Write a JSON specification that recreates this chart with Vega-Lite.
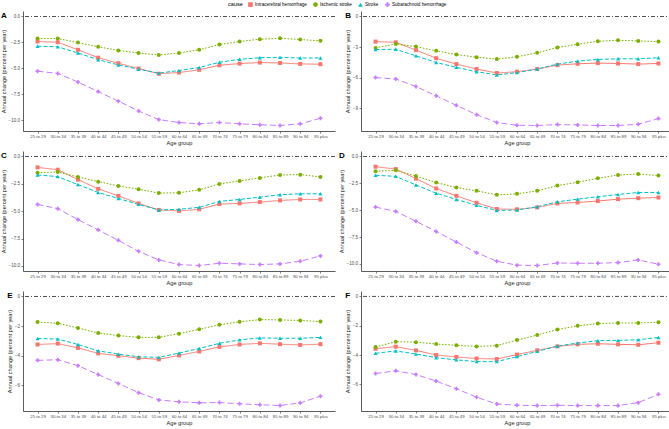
{
  "$schema": "https://vega.github.io/schema/vega-lite/v6.json",
  "padding": {"left": 1, "top": 2, "right": 1, "bottom": 1},
  "background": "white",
  "datasets": {
    "d": [
      {"p":"A","age":"25 to 29","cause":"Intracerebral hemorrhage","v":-2.41},
      {"p":"A","age":"30 to 34","cause":"Intracerebral hemorrhage","v":-2.48},
      {"p":"A","age":"35 to 39","cause":"Intracerebral hemorrhage","v":-3.21},
      {"p":"A","age":"40 to 44","cause":"Intracerebral hemorrhage","v":-3.97},
      {"p":"A","age":"45 to 49","cause":"Intracerebral hemorrhage","v":-4.51},
      {"p":"A","age":"50 to 54","cause":"Intracerebral hemorrhage","v":-5.02},
      {"p":"A","age":"55 to 59","cause":"Intracerebral hemorrhage","v":-5.52},
      {"p":"A","age":"60 to 64","cause":"Intracerebral hemorrhage","v":-5.40},
      {"p":"A","age":"65 to 69","cause":"Intracerebral hemorrhage","v":-5.14},
      {"p":"A","age":"70 to 74","cause":"Intracerebral hemorrhage","v":-4.70},
      {"p":"A","age":"75 to 79","cause":"Intracerebral hemorrhage","v":-4.54},
      {"p":"A","age":"80 to 84","cause":"Intracerebral hemorrhage","v":-4.44},
      {"p":"A","age":"85 to 89","cause":"Intracerebral hemorrhage","v":-4.48},
      {"p":"A","age":"90 to 94","cause":"Intracerebral hemorrhage","v":-4.57},
      {"p":"A","age":"95 plus","cause":"Intracerebral hemorrhage","v":-4.60},
      {"p":"A","age":"25 to 29","cause":"Ischemic stroke","v":-2.13},
      {"p":"A","age":"30 to 34","cause":"Ischemic stroke","v":-2.13},
      {"p":"A","age":"35 to 39","cause":"Ischemic stroke","v":-2.51},
      {"p":"A","age":"40 to 44","cause":"Ischemic stroke","v":-2.92},
      {"p":"A","age":"45 to 49","cause":"Ischemic stroke","v":-3.27},
      {"p":"A","age":"50 to 54","cause":"Ischemic stroke","v":-3.52},
      {"p":"A","age":"55 to 59","cause":"Ischemic stroke","v":-3.71},
      {"p":"A","age":"60 to 64","cause":"Ischemic stroke","v":-3.52},
      {"p":"A","age":"65 to 69","cause":"Ischemic stroke","v":-3.21},
      {"p":"A","age":"70 to 74","cause":"Ischemic stroke","v":-2.70},
      {"p":"A","age":"75 to 79","cause":"Ischemic stroke","v":-2.41},
      {"p":"A","age":"80 to 84","cause":"Ischemic stroke","v":-2.19},
      {"p":"A","age":"85 to 89","cause":"Ischemic stroke","v":-2.10},
      {"p":"A","age":"90 to 94","cause":"Ischemic stroke","v":-2.22},
      {"p":"A","age":"95 plus","cause":"Ischemic stroke","v":-2.35},
      {"p":"A","age":"25 to 29","cause":"Stroke","v":-2.86},
      {"p":"A","age":"30 to 34","cause":"Stroke","v":-2.92},
      {"p":"A","age":"35 to 39","cause":"Stroke","v":-3.52},
      {"p":"A","age":"40 to 44","cause":"Stroke","v":-4.16},
      {"p":"A","age":"45 to 49","cause":"Stroke","v":-4.67},
      {"p":"A","age":"50 to 54","cause":"Stroke","v":-5.08},
      {"p":"A","age":"55 to 59","cause":"Stroke","v":-5.46},
      {"p":"A","age":"60 to 64","cause":"Stroke","v":-5.21},
      {"p":"A","age":"65 to 69","cause":"Stroke","v":-4.92},
      {"p":"A","age":"70 to 74","cause":"Stroke","v":-4.41},
      {"p":"A","age":"75 to 79","cause":"Stroke","v":-4.13},
      {"p":"A","age":"80 to 84","cause":"Stroke","v":-3.97},
      {"p":"A","age":"85 to 89","cause":"Stroke","v":-3.94},
      {"p":"A","age":"90 to 94","cause":"Stroke","v":-4.00},
      {"p":"A","age":"95 plus","cause":"Stroke","v":-4.00},
      {"p":"A","age":"25 to 29","cause":"Subarachnoid hemorrhage","v":-5.27},
      {"p":"A","age":"30 to 34","cause":"Subarachnoid hemorrhage","v":-5.49},
      {"p":"A","age":"35 to 39","cause":"Subarachnoid hemorrhage","v":-6.32},
      {"p":"A","age":"40 to 44","cause":"Subarachnoid hemorrhage","v":-7.24},
      {"p":"A","age":"45 to 49","cause":"Subarachnoid hemorrhage","v":-8.16},
      {"p":"A","age":"50 to 54","cause":"Subarachnoid hemorrhage","v":-9.11},
      {"p":"A","age":"55 to 59","cause":"Subarachnoid hemorrhage","v":-9.94},
      {"p":"A","age":"60 to 64","cause":"Subarachnoid hemorrhage","v":-10.22},
      {"p":"A","age":"65 to 69","cause":"Subarachnoid hemorrhage","v":-10.35},
      {"p":"A","age":"70 to 74","cause":"Subarachnoid hemorrhage","v":-10.22},
      {"p":"A","age":"75 to 79","cause":"Subarachnoid hemorrhage","v":-10.35},
      {"p":"A","age":"80 to 84","cause":"Subarachnoid hemorrhage","v":-10.44},
      {"p":"A","age":"85 to 89","cause":"Subarachnoid hemorrhage","v":-10.51},
      {"p":"A","age":"90 to 94","cause":"Subarachnoid hemorrhage","v":-10.35},
      {"p":"A","age":"95 plus","cause":"Subarachnoid hemorrhage","v":-9.81},
      {"p":"B","age":"25 to 29","cause":"Intracerebral hemorrhage","v":-2.47},
      {"p":"B","age":"30 to 34","cause":"Intracerebral hemorrhage","v":-2.54},
      {"p":"B","age":"35 to 39","cause":"Intracerebral hemorrhage","v":-3.31},
      {"p":"B","age":"40 to 44","cause":"Intracerebral hemorrhage","v":-4.10},
      {"p":"B","age":"45 to 49","cause":"Intracerebral hemorrhage","v":-4.68},
      {"p":"B","age":"50 to 54","cause":"Intracerebral hemorrhage","v":-5.17},
      {"p":"B","age":"55 to 59","cause":"Intracerebral hemorrhage","v":-5.56},
      {"p":"B","age":"60 to 64","cause":"Intracerebral hemorrhage","v":-5.43},
      {"p":"B","age":"65 to 69","cause":"Intracerebral hemorrhage","v":-5.17},
      {"p":"B","age":"70 to 74","cause":"Intracerebral hemorrhage","v":-4.78},
      {"p":"B","age":"75 to 79","cause":"Intracerebral hemorrhage","v":-4.65},
      {"p":"B","age":"80 to 84","cause":"Intracerebral hemorrhage","v":-4.58},
      {"p":"B","age":"85 to 89","cause":"Intracerebral hemorrhage","v":-4.62},
      {"p":"B","age":"90 to 94","cause":"Intracerebral hemorrhage","v":-4.68},
      {"p":"B","age":"95 plus","cause":"Intracerebral hemorrhage","v":-4.62},
      {"p":"B","age":"25 to 29","cause":"Ischemic stroke","v":-3.09},
      {"p":"B","age":"30 to 34","cause":"Ischemic stroke","v":-2.70},
      {"p":"B","age":"35 to 39","cause":"Ischemic stroke","v":-2.96},
      {"p":"B","age":"40 to 44","cause":"Ischemic stroke","v":-3.38},
      {"p":"B","age":"45 to 49","cause":"Ischemic stroke","v":-3.74},
      {"p":"B","age":"50 to 54","cause":"Ischemic stroke","v":-4.00},
      {"p":"B","age":"55 to 59","cause":"Ischemic stroke","v":-4.19},
      {"p":"B","age":"60 to 64","cause":"Ischemic stroke","v":-3.96},
      {"p":"B","age":"65 to 69","cause":"Ischemic stroke","v":-3.57},
      {"p":"B","age":"70 to 74","cause":"Ischemic stroke","v":-3.05},
      {"p":"B","age":"75 to 79","cause":"Ischemic stroke","v":-2.73},
      {"p":"B","age":"80 to 84","cause":"Ischemic stroke","v":-2.44},
      {"p":"B","age":"85 to 89","cause":"Ischemic stroke","v":-2.34},
      {"p":"B","age":"90 to 94","cause":"Ischemic stroke","v":-2.40},
      {"p":"B","age":"95 plus","cause":"Ischemic stroke","v":-2.47},
      {"p":"B","age":"25 to 29","cause":"Stroke","v":-3.25},
      {"p":"B","age":"30 to 34","cause":"Stroke","v":-3.22},
      {"p":"B","age":"35 to 39","cause":"Stroke","v":-3.87},
      {"p":"B","age":"40 to 44","cause":"Stroke","v":-4.52},
      {"p":"B","age":"45 to 49","cause":"Stroke","v":-5.00},
      {"p":"B","age":"50 to 54","cause":"Stroke","v":-5.43},
      {"p":"B","age":"55 to 59","cause":"Stroke","v":-5.75},
      {"p":"B","age":"60 to 64","cause":"Stroke","v":-5.52},
      {"p":"B","age":"65 to 69","cause":"Stroke","v":-5.17},
      {"p":"B","age":"70 to 74","cause":"Stroke","v":-4.68},
      {"p":"B","age":"75 to 79","cause":"Stroke","v":-4.39},
      {"p":"B","age":"80 to 84","cause":"Stroke","v":-4.22},
      {"p":"B","age":"85 to 89","cause":"Stroke","v":-4.16},
      {"p":"B","age":"90 to 94","cause":"Stroke","v":-4.16},
      {"p":"B","age":"95 plus","cause":"Stroke","v":-4.06},
      {"p":"B","age":"25 to 29","cause":"Subarachnoid hemorrhage","v":-6.01},
      {"p":"B","age":"30 to 34","cause":"Subarachnoid hemorrhage","v":-6.14},
      {"p":"B","age":"35 to 39","cause":"Subarachnoid hemorrhage","v":-6.89},
      {"p":"B","age":"40 to 44","cause":"Subarachnoid hemorrhage","v":-7.80},
      {"p":"B","age":"45 to 49","cause":"Subarachnoid hemorrhage","v":-8.74},
      {"p":"B","age":"50 to 54","cause":"Subarachnoid hemorrhage","v":-9.65},
      {"p":"B","age":"55 to 59","cause":"Subarachnoid hemorrhage","v":-10.43},
      {"p":"B","age":"60 to 64","cause":"Subarachnoid hemorrhage","v":-10.69},
      {"p":"B","age":"65 to 69","cause":"Subarachnoid hemorrhage","v":-10.72},
      {"p":"B","age":"70 to 74","cause":"Subarachnoid hemorrhage","v":-10.63},
      {"p":"B","age":"75 to 79","cause":"Subarachnoid hemorrhage","v":-10.66},
      {"p":"B","age":"80 to 84","cause":"Subarachnoid hemorrhage","v":-10.72},
      {"p":"B","age":"85 to 89","cause":"Subarachnoid hemorrhage","v":-10.72},
      {"p":"B","age":"90 to 94","cause":"Subarachnoid hemorrhage","v":-10.59},
      {"p":"B","age":"95 plus","cause":"Subarachnoid hemorrhage","v":-10.04},
      {"p":"C","age":"25 to 29","cause":"Intracerebral hemorrhage","v":-1.00},
      {"p":"C","age":"30 to 34","cause":"Intracerebral hemorrhage","v":-1.21},
      {"p":"C","age":"35 to 39","cause":"Intracerebral hemorrhage","v":-2.11},
      {"p":"C","age":"40 to 44","cause":"Intracerebral hemorrhage","v":-2.96},
      {"p":"C","age":"45 to 49","cause":"Intracerebral hemorrhage","v":-3.60},
      {"p":"C","age":"50 to 54","cause":"Intracerebral hemorrhage","v":-4.29},
      {"p":"C","age":"55 to 59","cause":"Intracerebral hemorrhage","v":-4.89},
      {"p":"C","age":"60 to 64","cause":"Intracerebral hemorrhage","v":-4.98},
      {"p":"C","age":"65 to 69","cause":"Intracerebral hemorrhage","v":-4.83},
      {"p":"C","age":"70 to 74","cause":"Intracerebral hemorrhage","v":-4.35},
      {"p":"C","age":"75 to 79","cause":"Intracerebral hemorrhage","v":-4.29},
      {"p":"C","age":"80 to 84","cause":"Intracerebral hemorrhage","v":-4.17},
      {"p":"C","age":"85 to 89","cause":"Intracerebral hemorrhage","v":-4.02},
      {"p":"C","age":"90 to 94","cause":"Intracerebral hemorrhage","v":-3.93},
      {"p":"C","age":"95 plus","cause":"Intracerebral hemorrhage","v":-3.93},
      {"p":"C","age":"25 to 29","cause":"Ischemic stroke","v":-1.48},
      {"p":"C","age":"30 to 34","cause":"Ischemic stroke","v":-1.42},
      {"p":"C","age":"35 to 39","cause":"Ischemic stroke","v":-1.87},
      {"p":"C","age":"40 to 44","cause":"Ischemic stroke","v":-2.30},
      {"p":"C","age":"45 to 49","cause":"Ischemic stroke","v":-2.69},
      {"p":"C","age":"50 to 54","cause":"Ischemic stroke","v":-2.99},
      {"p":"C","age":"55 to 59","cause":"Ischemic stroke","v":-3.35},
      {"p":"C","age":"60 to 64","cause":"Ischemic stroke","v":-3.32},
      {"p":"C","age":"65 to 69","cause":"Ischemic stroke","v":-3.05},
      {"p":"C","age":"70 to 74","cause":"Ischemic stroke","v":-2.51},
      {"p":"C","age":"75 to 79","cause":"Ischemic stroke","v":-2.24},
      {"p":"C","age":"80 to 84","cause":"Ischemic stroke","v":-1.96},
      {"p":"C","age":"85 to 89","cause":"Ischemic stroke","v":-1.69},
      {"p":"C","age":"90 to 94","cause":"Ischemic stroke","v":-1.66},
      {"p":"C","age":"95 plus","cause":"Ischemic stroke","v":-1.87},
      {"p":"C","age":"25 to 29","cause":"Stroke","v":-1.69},
      {"p":"C","age":"30 to 34","cause":"Stroke","v":-1.84},
      {"p":"C","age":"35 to 39","cause":"Stroke","v":-2.57},
      {"p":"C","age":"40 to 44","cause":"Stroke","v":-3.29},
      {"p":"C","age":"45 to 49","cause":"Stroke","v":-3.84},
      {"p":"C","age":"50 to 54","cause":"Stroke","v":-4.38},
      {"p":"C","age":"55 to 59","cause":"Stroke","v":-4.89},
      {"p":"C","age":"60 to 64","cause":"Stroke","v":-4.83},
      {"p":"C","age":"65 to 69","cause":"Stroke","v":-4.65},
      {"p":"C","age":"70 to 74","cause":"Stroke","v":-4.11},
      {"p":"C","age":"75 to 79","cause":"Stroke","v":-3.93},
      {"p":"C","age":"80 to 84","cause":"Stroke","v":-3.72},
      {"p":"C","age":"85 to 89","cause":"Stroke","v":-3.50},
      {"p":"C","age":"90 to 94","cause":"Stroke","v":-3.41},
      {"p":"C","age":"95 plus","cause":"Stroke","v":-3.41},
      {"p":"C","age":"25 to 29","cause":"Subarachnoid hemorrhage","v":-4.38},
      {"p":"C","age":"30 to 34","cause":"Subarachnoid hemorrhage","v":-4.77},
      {"p":"C","age":"35 to 39","cause":"Subarachnoid hemorrhage","v":-5.77},
      {"p":"C","age":"40 to 44","cause":"Subarachnoid hemorrhage","v":-6.71},
      {"p":"C","age":"45 to 49","cause":"Subarachnoid hemorrhage","v":-7.67},
      {"p":"C","age":"50 to 54","cause":"Subarachnoid hemorrhage","v":-8.67},
      {"p":"C","age":"55 to 59","cause":"Subarachnoid hemorrhage","v":-9.46},
      {"p":"C","age":"60 to 64","cause":"Subarachnoid hemorrhage","v":-9.88},
      {"p":"C","age":"65 to 69","cause":"Subarachnoid hemorrhage","v":-9.97},
      {"p":"C","age":"70 to 74","cause":"Subarachnoid hemorrhage","v":-9.76},
      {"p":"C","age":"75 to 79","cause":"Subarachnoid hemorrhage","v":-9.82},
      {"p":"C","age":"80 to 84","cause":"Subarachnoid hemorrhage","v":-9.88},
      {"p":"C","age":"85 to 89","cause":"Subarachnoid hemorrhage","v":-9.82},
      {"p":"C","age":"90 to 94","cause":"Subarachnoid hemorrhage","v":-9.58},
      {"p":"C","age":"95 plus","cause":"Subarachnoid hemorrhage","v":-9.09},
      {"p":"D","age":"25 to 29","cause":"Intracerebral hemorrhage","v":-0.95},
      {"p":"D","age":"30 to 34","cause":"Intracerebral hemorrhage","v":-1.17},
      {"p":"D","age":"35 to 39","cause":"Intracerebral hemorrhage","v":-2.06},
      {"p":"D","age":"40 to 44","cause":"Intracerebral hemorrhage","v":-2.98},
      {"p":"D","age":"45 to 49","cause":"Intracerebral hemorrhage","v":-3.66},
      {"p":"D","age":"50 to 54","cause":"Intracerebral hemorrhage","v":-4.31},
      {"p":"D","age":"55 to 59","cause":"Intracerebral hemorrhage","v":-4.89},
      {"p":"D","age":"60 to 64","cause":"Intracerebral hemorrhage","v":-4.92},
      {"p":"D","age":"65 to 69","cause":"Intracerebral hemorrhage","v":-4.74},
      {"p":"D","age":"70 to 74","cause":"Intracerebral hemorrhage","v":-4.37},
      {"p":"D","age":"75 to 79","cause":"Intracerebral hemorrhage","v":-4.28},
      {"p":"D","age":"80 to 84","cause":"Intracerebral hemorrhage","v":-4.15},
      {"p":"D","age":"85 to 89","cause":"Intracerebral hemorrhage","v":-3.97},
      {"p":"D","age":"90 to 94","cause":"Intracerebral hemorrhage","v":-3.88},
      {"p":"D","age":"95 plus","cause":"Intracerebral hemorrhage","v":-3.82},
      {"p":"D","age":"25 to 29","cause":"Ischemic stroke","v":-1.38},
      {"p":"D","age":"30 to 34","cause":"Ischemic stroke","v":-1.29},
      {"p":"D","age":"35 to 39","cause":"Ischemic stroke","v":-1.82},
      {"p":"D","age":"40 to 44","cause":"Ischemic stroke","v":-2.43},
      {"p":"D","age":"45 to 49","cause":"Ischemic stroke","v":-2.89},
      {"p":"D","age":"50 to 54","cause":"Ischemic stroke","v":-3.20},
      {"p":"D","age":"55 to 59","cause":"Ischemic stroke","v":-3.57},
      {"p":"D","age":"60 to 64","cause":"Ischemic stroke","v":-3.48},
      {"p":"D","age":"65 to 69","cause":"Ischemic stroke","v":-3.20},
      {"p":"D","age":"70 to 74","cause":"Ischemic stroke","v":-2.71},
      {"p":"D","age":"75 to 79","cause":"Ischemic stroke","v":-2.40},
      {"p":"D","age":"80 to 84","cause":"Ischemic stroke","v":-2.03},
      {"p":"D","age":"85 to 89","cause":"Ischemic stroke","v":-1.72},
      {"p":"D","age":"90 to 94","cause":"Ischemic stroke","v":-1.63},
      {"p":"D","age":"95 plus","cause":"Ischemic stroke","v":-1.78},
      {"p":"D","age":"25 to 29","cause":"Stroke","v":-1.75},
      {"p":"D","age":"30 to 34","cause":"Stroke","v":-1.85},
      {"p":"D","age":"35 to 39","cause":"Stroke","v":-2.65},
      {"p":"D","age":"40 to 44","cause":"Stroke","v":-3.42},
      {"p":"D","age":"45 to 49","cause":"Stroke","v":-4.00},
      {"p":"D","age":"50 to 54","cause":"Stroke","v":-4.55},
      {"p":"D","age":"55 to 59","cause":"Stroke","v":-5.02},
      {"p":"D","age":"60 to 64","cause":"Stroke","v":-4.98},
      {"p":"D","age":"65 to 69","cause":"Stroke","v":-4.68},
      {"p":"D","age":"70 to 74","cause":"Stroke","v":-4.22},
      {"p":"D","age":"75 to 79","cause":"Stroke","v":-3.97},
      {"p":"D","age":"80 to 84","cause":"Stroke","v":-3.75},
      {"p":"D","age":"85 to 89","cause":"Stroke","v":-3.54},
      {"p":"D","age":"90 to 94","cause":"Stroke","v":-3.35},
      {"p":"D","age":"95 plus","cause":"Stroke","v":-3.35},
      {"p":"D","age":"25 to 29","cause":"Subarachnoid hemorrhage","v":-4.71},
      {"p":"D","age":"30 to 34","cause":"Subarachnoid hemorrhage","v":-5.11},
      {"p":"D","age":"35 to 39","cause":"Subarachnoid hemorrhage","v":-6.03},
      {"p":"D","age":"40 to 44","cause":"Subarachnoid hemorrhage","v":-6.98},
      {"p":"D","age":"45 to 49","cause":"Subarachnoid hemorrhage","v":-7.97},
      {"p":"D","age":"50 to 54","cause":"Subarachnoid hemorrhage","v":-8.95},
      {"p":"D","age":"55 to 59","cause":"Subarachnoid hemorrhage","v":-9.75},
      {"p":"D","age":"60 to 64","cause":"Subarachnoid hemorrhage","v":-10.12},
      {"p":"D","age":"65 to 69","cause":"Subarachnoid hemorrhage","v":-10.15},
      {"p":"D","age":"70 to 74","cause":"Subarachnoid hemorrhage","v":-9.91},
      {"p":"D","age":"75 to 79","cause":"Subarachnoid hemorrhage","v":-9.94},
      {"p":"D","age":"80 to 84","cause":"Subarachnoid hemorrhage","v":-9.94},
      {"p":"D","age":"85 to 89","cause":"Subarachnoid hemorrhage","v":-9.88},
      {"p":"D","age":"90 to 94","cause":"Subarachnoid hemorrhage","v":-9.63},
      {"p":"D","age":"95 plus","cause":"Subarachnoid hemorrhage","v":-10.03},
      {"p":"E","age":"25 to 29","cause":"Intracerebral hemorrhage","v":-3.24},
      {"p":"E","age":"30 to 34","cause":"Intracerebral hemorrhage","v":-3.18},
      {"p":"E","age":"35 to 39","cause":"Intracerebral hemorrhage","v":-3.47},
      {"p":"E","age":"40 to 44","cause":"Intracerebral hemorrhage","v":-3.84},
      {"p":"E","age":"45 to 49","cause":"Intracerebral hemorrhage","v":-4.00},
      {"p":"E","age":"50 to 54","cause":"Intracerebral hemorrhage","v":-4.16},
      {"p":"E","age":"55 to 59","cause":"Intracerebral hemorrhage","v":-4.24},
      {"p":"E","age":"60 to 64","cause":"Intracerebral hemorrhage","v":-3.98},
      {"p":"E","age":"65 to 69","cause":"Intracerebral hemorrhage","v":-3.71},
      {"p":"E","age":"70 to 74","cause":"Intracerebral hemorrhage","v":-3.40},
      {"p":"E","age":"75 to 79","cause":"Intracerebral hemorrhage","v":-3.24},
      {"p":"E","age":"80 to 84","cause":"Intracerebral hemorrhage","v":-3.16},
      {"p":"E","age":"85 to 89","cause":"Intracerebral hemorrhage","v":-3.22},
      {"p":"E","age":"90 to 94","cause":"Intracerebral hemorrhage","v":-3.27},
      {"p":"E","age":"95 plus","cause":"Intracerebral hemorrhage","v":-3.22},
      {"p":"E","age":"25 to 29","cause":"Ischemic stroke","v":-1.73},
      {"p":"E","age":"30 to 34","cause":"Ischemic stroke","v":-1.80},
      {"p":"E","age":"35 to 39","cause":"Ischemic stroke","v":-2.13},
      {"p":"E","age":"40 to 44","cause":"Ischemic stroke","v":-2.47},
      {"p":"E","age":"45 to 49","cause":"Ischemic stroke","v":-2.64},
      {"p":"E","age":"50 to 54","cause":"Ischemic stroke","v":-2.76},
      {"p":"E","age":"55 to 59","cause":"Ischemic stroke","v":-2.76},
      {"p":"E","age":"60 to 64","cause":"Ischemic stroke","v":-2.51},
      {"p":"E","age":"65 to 69","cause":"Ischemic stroke","v":-2.22},
      {"p":"E","age":"70 to 74","cause":"Ischemic stroke","v":-1.91},
      {"p":"E","age":"75 to 79","cause":"Ischemic stroke","v":-1.71},
      {"p":"E","age":"80 to 84","cause":"Ischemic stroke","v":-1.56},
      {"p":"E","age":"85 to 89","cause":"Ischemic stroke","v":-1.58},
      {"p":"E","age":"90 to 94","cause":"Ischemic stroke","v":-1.62},
      {"p":"E","age":"95 plus","cause":"Ischemic stroke","v":-1.69},
      {"p":"E","age":"25 to 29","cause":"Stroke","v":-2.84},
      {"p":"E","age":"30 to 34","cause":"Stroke","v":-2.87},
      {"p":"E","age":"35 to 39","cause":"Stroke","v":-3.24},
      {"p":"E","age":"40 to 44","cause":"Stroke","v":-3.67},
      {"p":"E","age":"45 to 49","cause":"Stroke","v":-3.89},
      {"p":"E","age":"50 to 54","cause":"Stroke","v":-4.07},
      {"p":"E","age":"55 to 59","cause":"Stroke","v":-4.11},
      {"p":"E","age":"60 to 64","cause":"Stroke","v":-3.82},
      {"p":"E","age":"65 to 69","cause":"Stroke","v":-3.51},
      {"p":"E","age":"70 to 74","cause":"Stroke","v":-3.16},
      {"p":"E","age":"75 to 79","cause":"Stroke","v":-2.93},
      {"p":"E","age":"80 to 84","cause":"Stroke","v":-2.80},
      {"p":"E","age":"85 to 89","cause":"Stroke","v":-2.82},
      {"p":"E","age":"90 to 94","cause":"Stroke","v":-2.82},
      {"p":"E","age":"95 plus","cause":"Stroke","v":-2.76},
      {"p":"E","age":"25 to 29","cause":"Subarachnoid hemorrhage","v":-4.31},
      {"p":"E","age":"30 to 34","cause":"Subarachnoid hemorrhage","v":-4.27},
      {"p":"E","age":"35 to 39","cause":"Subarachnoid hemorrhage","v":-4.67},
      {"p":"E","age":"40 to 44","cause":"Subarachnoid hemorrhage","v":-5.27},
      {"p":"E","age":"45 to 49","cause":"Subarachnoid hemorrhage","v":-5.87},
      {"p":"E","age":"50 to 54","cause":"Subarachnoid hemorrhage","v":-6.49},
      {"p":"E","age":"55 to 59","cause":"Subarachnoid hemorrhage","v":-6.98},
      {"p":"E","age":"60 to 64","cause":"Subarachnoid hemorrhage","v":-7.11},
      {"p":"E","age":"65 to 69","cause":"Subarachnoid hemorrhage","v":-7.18},
      {"p":"E","age":"70 to 74","cause":"Subarachnoid hemorrhage","v":-7.16},
      {"p":"E","age":"75 to 79","cause":"Subarachnoid hemorrhage","v":-7.24},
      {"p":"E","age":"80 to 84","cause":"Subarachnoid hemorrhage","v":-7.31},
      {"p":"E","age":"85 to 89","cause":"Subarachnoid hemorrhage","v":-7.36},
      {"p":"E","age":"90 to 94","cause":"Subarachnoid hemorrhage","v":-7.18},
      {"p":"E","age":"95 plus","cause":"Subarachnoid hemorrhage","v":-6.73},
      {"p":"F","age":"25 to 29","cause":"Intracerebral hemorrhage","v":-3.57},
      {"p":"F","age":"30 to 34","cause":"Intracerebral hemorrhage","v":-3.43},
      {"p":"F","age":"35 to 39","cause":"Intracerebral hemorrhage","v":-3.68},
      {"p":"F","age":"40 to 44","cause":"Intracerebral hemorrhage","v":-4.00},
      {"p":"F","age":"45 to 49","cause":"Intracerebral hemorrhage","v":-4.13},
      {"p":"F","age":"50 to 54","cause":"Intracerebral hemorrhage","v":-4.24},
      {"p":"F","age":"55 to 59","cause":"Intracerebral hemorrhage","v":-4.27},
      {"p":"F","age":"60 to 64","cause":"Intracerebral hemorrhage","v":-3.97},
      {"p":"F","age":"65 to 69","cause":"Intracerebral hemorrhage","v":-3.68},
      {"p":"F","age":"70 to 74","cause":"Intracerebral hemorrhage","v":-3.41},
      {"p":"F","age":"75 to 79","cause":"Intracerebral hemorrhage","v":-3.27},
      {"p":"F","age":"80 to 84","cause":"Intracerebral hemorrhage","v":-3.23},
      {"p":"F","age":"85 to 89","cause":"Intracerebral hemorrhage","v":-3.27},
      {"p":"F","age":"90 to 94","cause":"Intracerebral hemorrhage","v":-3.30},
      {"p":"F","age":"95 plus","cause":"Intracerebral hemorrhage","v":-3.16},
      {"p":"F","age":"25 to 29","cause":"Ischemic stroke","v":-3.45},
      {"p":"F","age":"30 to 34","cause":"Ischemic stroke","v":-3.09},
      {"p":"F","age":"35 to 39","cause":"Ischemic stroke","v":-3.12},
      {"p":"F","age":"40 to 44","cause":"Ischemic stroke","v":-3.25},
      {"p":"F","age":"45 to 49","cause":"Ischemic stroke","v":-3.34},
      {"p":"F","age":"50 to 54","cause":"Ischemic stroke","v":-3.41},
      {"p":"F","age":"55 to 59","cause":"Ischemic stroke","v":-3.36},
      {"p":"F","age":"60 to 64","cause":"Ischemic stroke","v":-2.98},
      {"p":"F","age":"65 to 69","cause":"Ischemic stroke","v":-2.64},
      {"p":"F","age":"70 to 74","cause":"Ischemic stroke","v":-2.26},
      {"p":"F","age":"75 to 79","cause":"Ischemic stroke","v":-2.01},
      {"p":"F","age":"80 to 84","cause":"Ischemic stroke","v":-1.85},
      {"p":"F","age":"85 to 89","cause":"Ischemic stroke","v":-1.81},
      {"p":"F","age":"90 to 94","cause":"Ischemic stroke","v":-1.81},
      {"p":"F","age":"95 plus","cause":"Ischemic stroke","v":-1.76},
      {"p":"F","age":"25 to 29","cause":"Stroke","v":-3.88},
      {"p":"F","age":"30 to 34","cause":"Stroke","v":-3.72},
      {"p":"F","age":"35 to 39","cause":"Stroke","v":-3.93},
      {"p":"F","age":"40 to 44","cause":"Stroke","v":-4.18},
      {"p":"F","age":"45 to 49","cause":"Stroke","v":-4.33},
      {"p":"F","age":"50 to 54","cause":"Stroke","v":-4.45},
      {"p":"F","age":"55 to 59","cause":"Stroke","v":-4.45},
      {"p":"F","age":"60 to 64","cause":"Stroke","v":-4.11},
      {"p":"F","age":"65 to 69","cause":"Stroke","v":-3.75},
      {"p":"F","age":"70 to 74","cause":"Stroke","v":-3.39},
      {"p":"F","age":"75 to 79","cause":"Stroke","v":-3.18},
      {"p":"F","age":"80 to 84","cause":"Stroke","v":-3.02},
      {"p":"F","age":"85 to 89","cause":"Stroke","v":-3.00},
      {"p":"F","age":"90 to 94","cause":"Stroke","v":-2.96},
      {"p":"F","age":"95 plus","cause":"Stroke","v":-2.80},
      {"p":"F","age":"25 to 29","cause":"Subarachnoid hemorrhage","v":-5.26},
      {"p":"F","age":"30 to 34","cause":"Subarachnoid hemorrhage","v":-5.08},
      {"p":"F","age":"35 to 39","cause":"Subarachnoid hemorrhage","v":-5.33},
      {"p":"F","age":"40 to 44","cause":"Subarachnoid hemorrhage","v":-5.78},
      {"p":"F","age":"45 to 49","cause":"Subarachnoid hemorrhage","v":-6.30},
      {"p":"F","age":"50 to 54","cause":"Subarachnoid hemorrhage","v":-6.88},
      {"p":"F","age":"55 to 59","cause":"Subarachnoid hemorrhage","v":-7.34},
      {"p":"F","age":"60 to 64","cause":"Subarachnoid hemorrhage","v":-7.43},
      {"p":"F","age":"65 to 69","cause":"Subarachnoid hemorrhage","v":-7.45},
      {"p":"F","age":"70 to 74","cause":"Subarachnoid hemorrhage","v":-7.43},
      {"p":"F","age":"75 to 79","cause":"Subarachnoid hemorrhage","v":-7.45},
      {"p":"F","age":"80 to 84","cause":"Subarachnoid hemorrhage","v":-7.45},
      {"p":"F","age":"85 to 89","cause":"Subarachnoid hemorrhage","v":-7.45},
      {"p":"F","age":"90 to 94","cause":"Subarachnoid hemorrhage","v":-7.25},
      {"p":"F","age":"95 plus","cause":"Subarachnoid hemorrhage","v":-6.68}
    ]
  },
  "columns": 2,
  "spacing": {"row": 4, "column": 3},
  "concat": [
    {
      "width": 312, "height": 120,
      "title": {"text": "A"},
      "layer": [
        {"data": {"values": [{}]}, "mark": {"type": "rule", "color": "black", "strokeWidth": 0.7, "strokeDash": [4, 2, 1, 2]}, "encoding": {"y": {"datum": 0, "type": "quantitative", "scale": {"domain": [-11.04, 0.53], "nice": false, "zero": false}, "axis": {"values": [0, -2.5, -5, -7.5, -10], "tickCount": 20, "format": ".1f"}, "title": "Annual change (percent per year)"}}},
        {"data": {"name": "d"}, "transform": [{"filter": "datum.p === 'A'"}], "mark": {"type": "line", "strokeWidth": 1},
         "encoding": {"x": {"field": "age", "type": "ordinal", "sort": null, "scale": {"type": "point", "padding": 0.72}, "title": "Age group"},
                      "y": {"field": "v", "type": "quantitative", "axis": {"values": [0, -2.5, -5, -7.5, -10], "tickCount": 20, "format": ".1f"}, "title": "Annual change (percent per year)"},
                      "color": {"field": "cause", "type": "nominal", "title": "cause", "scale": {"domain": ["Intracerebral hemorrhage", "Ischemic stroke", "Stroke", "Subarachnoid hemorrhage"], "range": ["#F8766D", "#7CAE00", "#00BFC4", "#C77CFF"]}},
                      "strokeDash": {"field": "cause", "type": "nominal", "title": "cause", "scale": {"domain": ["Intracerebral hemorrhage", "Ischemic stroke", "Stroke", "Subarachnoid hemorrhage"], "range": [[1, 0], [1.6, 1.6], [4, 2], [6, 3]]}}}},
        {"data": {"name": "d"}, "transform": [{"filter": "datum.p === 'A'"}], "mark": {"type": "point", "filled": true, "opacity": 1, "size": 16},
         "encoding": {"x": {"field": "age", "type": "ordinal", "sort": null},
                      "y": {"field": "v", "type": "quantitative"},
                      "color": {"field": "cause", "type": "nominal", "title": "cause"},
                      "shape": {"field": "cause", "type": "nominal", "title": "cause", "scale": {"domain": ["Intracerebral hemorrhage", "Ischemic stroke", "Stroke", "Subarachnoid hemorrhage"], "range": ["square", "circle", "triangle-up", "cross"]}}}}
      ]
    },
    {
      "width": 312, "height": 120,
      "title": {"text": "B"},
      "layer": [
        {"data": {"values": [{}]}, "mark": {"type": "rule", "color": "black", "strokeWidth": 0.7, "strokeDash": [4, 2, 1, 2]}, "encoding": {"y": {"datum": 0, "type": "quantitative", "scale": {"domain": [-11.26, 0.54], "nice": false, "zero": false}, "axis": {"values": [0, -3, -6, -9], "tickCount": 20, "format": "d"}, "title": "Annual change (percent per year)"}}},
        {"data": {"name": "d"}, "transform": [{"filter": "datum.p === 'B'"}], "mark": {"type": "line", "strokeWidth": 1},
         "encoding": {"x": {"field": "age", "type": "ordinal", "sort": null, "scale": {"type": "point", "padding": 0.72}, "title": "Age group"},
                      "y": {"field": "v", "type": "quantitative", "axis": {"values": [0, -3, -6, -9], "tickCount": 20, "format": "d"}, "title": "Annual change (percent per year)"},
                      "color": {"field": "cause", "type": "nominal", "title": "cause"},
                      "strokeDash": {"field": "cause", "type": "nominal", "title": "cause"}}},
        {"data": {"name": "d"}, "transform": [{"filter": "datum.p === 'B'"}], "mark": {"type": "point", "filled": true, "opacity": 1, "size": 16},
         "encoding": {"x": {"field": "age", "type": "ordinal", "sort": null},
                      "y": {"field": "v", "type": "quantitative"},
                      "color": {"field": "cause", "type": "nominal", "title": "cause"},
                      "shape": {"field": "cause", "type": "nominal", "title": "cause"}}}
      ]
    },
    {
      "width": 312, "height": 120,
      "title": {"text": "C"},
      "layer": [
        {"data": {"values": [{}]}, "mark": {"type": "rule", "color": "black", "strokeWidth": 0.7, "strokeDash": [4, 2, 1, 2]}, "encoding": {"y": {"datum": 0, "type": "quantitative", "scale": {"domain": [-10.47, 0.5], "nice": false, "zero": false}, "axis": {"values": [0, -2.5, -5, -7.5, -10], "tickCount": 20, "format": ".1f"}, "title": "Annual change (percent per year)"}}},
        {"data": {"name": "d"}, "transform": [{"filter": "datum.p === 'C'"}], "mark": {"type": "line", "strokeWidth": 1},
         "encoding": {"x": {"field": "age", "type": "ordinal", "sort": null, "scale": {"type": "point", "padding": 0.72}, "title": "Age group"},
                      "y": {"field": "v", "type": "quantitative", "axis": {"values": [0, -2.5, -5, -7.5, -10], "tickCount": 20, "format": ".1f"}, "title": "Annual change (percent per year)"},
                      "color": {"field": "cause", "type": "nominal", "title": "cause"},
                      "strokeDash": {"field": "cause", "type": "nominal", "title": "cause"}}},
        {"data": {"name": "d"}, "transform": [{"filter": "datum.p === 'C'"}], "mark": {"type": "point", "filled": true, "opacity": 1, "size": 16},
         "encoding": {"x": {"field": "age", "type": "ordinal", "sort": null},
                      "y": {"field": "v", "type": "quantitative"},
                      "color": {"field": "cause", "type": "nominal", "title": "cause"},
                      "shape": {"field": "cause", "type": "nominal", "title": "cause"}}}
      ]
    },
    {
      "width": 312, "height": 120,
      "title": {"text": "D"},
      "layer": [
        {"data": {"values": [{}]}, "mark": {"type": "rule", "color": "black", "strokeWidth": 0.7, "strokeDash": [4, 2, 1, 2]}, "encoding": {"y": {"datum": 0, "type": "quantitative", "scale": {"domain": [-10.66, 0.51], "nice": false, "zero": false}, "axis": {"values": [0, -2.5, -5, -7.5, -10], "tickCount": 20, "format": ".1f"}, "title": "Annual change (percent per year)"}}},
        {"data": {"name": "d"}, "transform": [{"filter": "datum.p === 'D'"}], "mark": {"type": "line", "strokeWidth": 1},
         "encoding": {"x": {"field": "age", "type": "ordinal", "sort": null, "scale": {"type": "point", "padding": 0.72}, "title": "Age group"},
                      "y": {"field": "v", "type": "quantitative", "axis": {"values": [0, -2.5, -5, -7.5, -10], "tickCount": 20, "format": ".1f"}, "title": "Annual change (percent per year)"},
                      "color": {"field": "cause", "type": "nominal", "title": "cause"},
                      "strokeDash": {"field": "cause", "type": "nominal", "title": "cause"}}},
        {"data": {"name": "d"}, "transform": [{"filter": "datum.p === 'D'"}], "mark": {"type": "point", "filled": true, "opacity": 1, "size": 16},
         "encoding": {"x": {"field": "age", "type": "ordinal", "sort": null},
                      "y": {"field": "v", "type": "quantitative"},
                      "color": {"field": "cause", "type": "nominal", "title": "cause"},
                      "shape": {"field": "cause", "type": "nominal", "title": "cause"}}}
      ]
    },
    {
      "width": 312, "height": 120,
      "title": {"text": "E"},
      "layer": [
        {"data": {"values": [{}]}, "mark": {"type": "rule", "color": "black", "strokeWidth": 0.7, "strokeDash": [4, 2, 1, 2]}, "encoding": {"y": {"datum": 0, "type": "quantitative", "scale": {"domain": [-7.73, 0.37], "nice": false, "zero": false}, "axis": {"values": [0, -2, -4, -6], "tickCount": 20, "format": "d"}, "title": "Annual change (percent per year)"}}},
        {"data": {"name": "d"}, "transform": [{"filter": "datum.p === 'E'"}], "mark": {"type": "line", "strokeWidth": 1},
         "encoding": {"x": {"field": "age", "type": "ordinal", "sort": null, "scale": {"type": "point", "padding": 0.72}, "title": "Age group"},
                      "y": {"field": "v", "type": "quantitative", "axis": {"values": [0, -2, -4, -6], "tickCount": 20, "format": "d"}, "title": "Annual change (percent per year)"},
                      "color": {"field": "cause", "type": "nominal", "title": "cause"},
                      "strokeDash": {"field": "cause", "type": "nominal", "title": "cause"}}},
        {"data": {"name": "d"}, "transform": [{"filter": "datum.p === 'E'"}], "mark": {"type": "point", "filled": true, "opacity": 1, "size": 16},
         "encoding": {"x": {"field": "age", "type": "ordinal", "sort": null},
                      "y": {"field": "v", "type": "quantitative"},
                      "color": {"field": "cause", "type": "nominal", "title": "cause"},
                      "shape": {"field": "cause", "type": "nominal", "title": "cause"}}}
      ]
    },
    {
      "width": 312, "height": 120,
      "title": {"text": "F"},
      "layer": [
        {"data": {"values": [{}]}, "mark": {"type": "rule", "color": "black", "strokeWidth": 0.7, "strokeDash": [4, 2, 1, 2]}, "encoding": {"y": {"datum": 0, "type": "quantitative", "scale": {"domain": [-7.82, 0.37], "nice": false, "zero": false}, "axis": {"values": [0, -2, -4, -6], "tickCount": 20, "format": "d"}, "title": "Annual change (percent per year)"}}},
        {"data": {"name": "d"}, "transform": [{"filter": "datum.p === 'F'"}], "mark": {"type": "line", "strokeWidth": 1},
         "encoding": {"x": {"field": "age", "type": "ordinal", "sort": null, "scale": {"type": "point", "padding": 0.72}, "title": "Age group"},
                      "y": {"field": "v", "type": "quantitative", "axis": {"values": [0, -2, -4, -6], "tickCount": 20, "format": "d"}, "title": "Annual change (percent per year)"},
                      "color": {"field": "cause", "type": "nominal", "title": "cause"},
                      "strokeDash": {"field": "cause", "type": "nominal", "title": "cause"}}},
        {"data": {"name": "d"}, "transform": [{"filter": "datum.p === 'F'"}], "mark": {"type": "point", "filled": true, "opacity": 1, "size": 16},
         "encoding": {"x": {"field": "age", "type": "ordinal", "sort": null},
                      "y": {"field": "v", "type": "quantitative"},
                      "color": {"field": "cause", "type": "nominal", "title": "cause"},
                      "shape": {"field": "cause", "type": "nominal", "title": "cause"}}}
      ]
    }
  ],
  "resolve": {"scale": {"x": "independent", "y": "independent", "color": "shared", "shape": "shared", "strokeDash": "shared"}},
  "config": {
    "font": "Liberation Sans",
    "view": {"stroke": null},
    "title": {"anchor": "start", "frame": "bounds", "fontSize": 8, "fontWeight": "bold", "offset": -9, "baseline": "top", "color": "black"},
    "axis": {"grid": false, "labelOverlap": false, "labelBound": false, "domainColor": "#333333", "domainWidth": 0.8, "tickColor": "#333333", "tickWidth": 0.6, "tickSize": 2, "labelColor": "#4d4d4d", "labelFontSize": 4.3, "labelPadding": 1.5, "titleFontSize": 5.6, "titleFontWeight": "normal", "titleColor": "#222222", "titlePadding": 2, "labelAngle": 0},
    "axisY": {"labelFontSize": 4.5},
    "legend": {"orient": "top", "direction": "horizontal", "titleOrient": "left", "titleFontSize": 5.6, "titleFontWeight": "normal", "labelFontSize": 4.6, "symbolSize": 22, "symbolStrokeWidth": 0, "columnPadding": 6, "labelOffset": 2, "padding": 0, "offset": 3, "layout": {"top": {"anchor": "middle"}}}
  }
}
